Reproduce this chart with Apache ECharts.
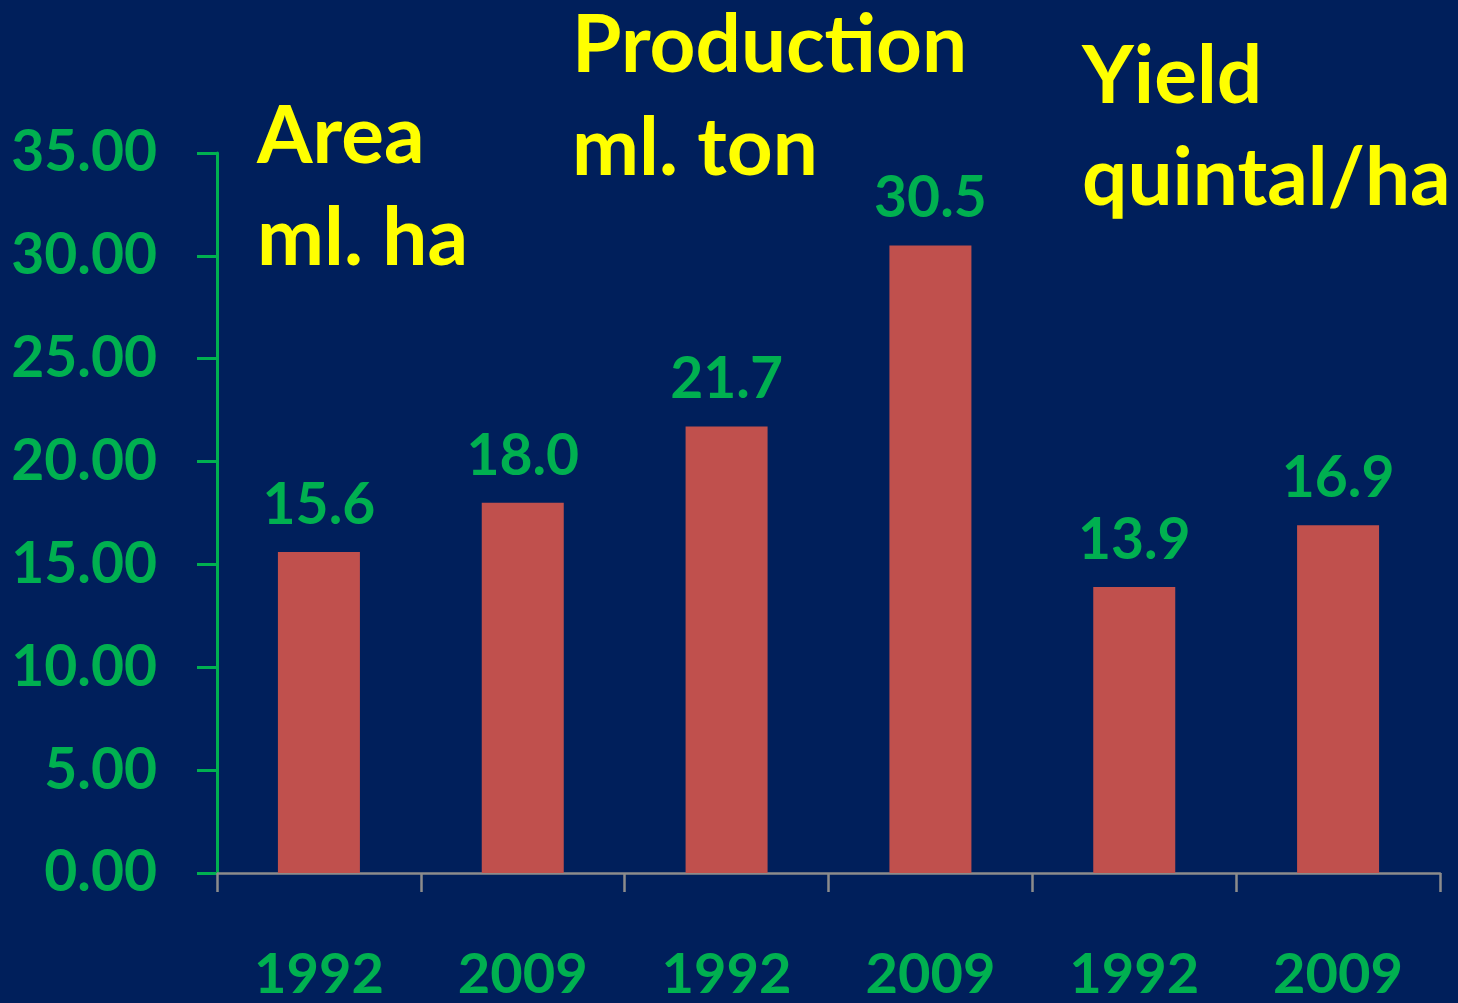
<!DOCTYPE html>
<html>
<head>
<meta charset="utf-8">
<script src="https://cdn.jsdelivr.net/npm/echarts@6/dist/echarts.min.js"></script>
<style>
  html, body { margin: 0; padding: 0; background: #001F5B; }
  #chart { width: 1458px; height: 1003px; }
</style>
</head>
<body>
<div id="chart"></div>
<script>
// data
const years = ['1992', '2009', '1992', '2009', '1992', '2009']
const values = [15.6, 18.0, 21.7, 30.5, 13.9, 16.9]
const yTicks = { min: 0, max: 35, interval: 5 }

const green = '#00B050'
const yellow = '#FFFF00'
const font = 'Lato'
const titleFont = 'bold 80px Lato'

const chart = echarts.init(document.getElementById('chart'))
chart.setOption({
  backgroundColor: '#001F5B',
  animation: false,
  grid: { left: 217, right: 18, top: 153, bottom: 124 },
  xAxis: {
    type: 'category',
    data: years,
    axisLine: { lineStyle: { color: '#8C8C8C', width: 2.5 } },
    axisTick: { show: true, length: 19, lineStyle: { color: '#8C8C8C', width: 2.5 } },
    axisLabel: {
      color: green, fontFamily: font, fontWeight: 'bold', fontSize: 56,
      margin: 74, verticalAlign: 'top'
    }
  },
  yAxis: {
    type: 'value',
    min: yTicks.min, max: yTicks.max, interval: yTicks.interval,
    splitLine: { show: false },
    axisLine: { show: true, lineStyle: { color: green, width: 3 } },
    axisTick: { show: true, inside: false, length: 20, lineStyle: { color: green, width: 3 } },
    axisLabel: {
      color: green, fontFamily: font, fontWeight: 'bold', fontSize: 57,
      margin: 60,
      formatter: v => v.toFixed(2)
    }
  },
  series: [{
    type: 'bar',
    data: values,
    barWidth: 82,
    itemStyle: { color: '#C0504D' },
    label: {
      show: true, position: 'top', distance: 18,
      color: green, fontFamily: font, fontWeight: 'bold', fontSize: 57,
      formatter: p => p.value.toFixed(1)
    }
  }],
  graphic: [
    { type: 'text', x: 257, y: 137, style: { text: 'Area', fill: yellow, font: titleFont, verticalAlign: 'middle' } },
    { type: 'text', x: 257, y: 239, style: { text: 'ml. ha', fill: yellow, font: titleFont, verticalAlign: 'middle' } },
    { type: 'text', x: 572, y: 46, style: { text: 'Production', fill: yellow, font: titleFont, verticalAlign: 'middle' } },
    { type: 'text', x: 572, y: 149, style: { text: 'ml. ton', fill: yellow, font: titleFont, verticalAlign: 'middle' } },
    { type: 'text', x: 1082, y: 77, style: { text: 'Yield', fill: yellow, font: titleFont, verticalAlign: 'middle' } },
    { type: 'text', x: 1082, y: 179, style: { text: 'quintal/ha', fill: yellow, font: titleFont, verticalAlign: 'middle' } }
  ]
})
</script>
</body>
</html>
